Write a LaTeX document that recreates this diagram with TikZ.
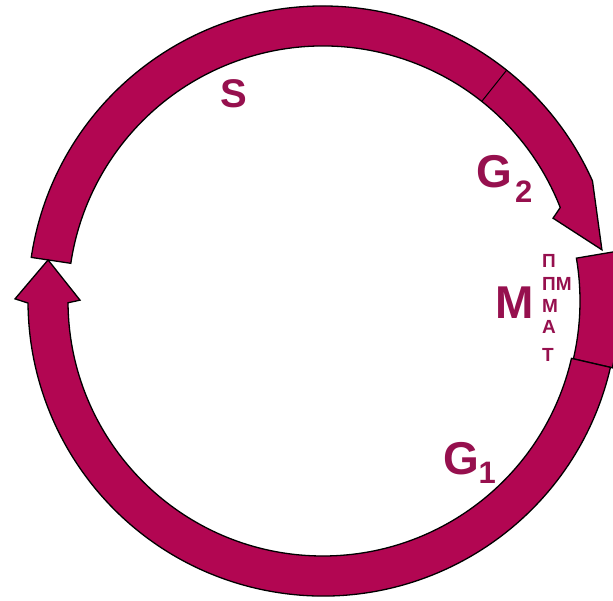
\documentclass[tikz,border=0pt]{standalone}
\usepackage{fontspec}
\setmainfont{Liberation Sans}
\definecolor{ring}{RGB}{178,6,82}
\definecolor{lab}{RGB}{150,16,78}
\begin{document}
\begin{tikzpicture}[x=1pt,y=1pt,
  seg/.style={fill=ring,draw=black,line width=1.3pt,line join=miter},
  lbl/.style={text=lab,inner sep=0pt,anchor=base west},
  big/.style={font=\bfseries\fontsize{46}{46}\selectfont},
  sub/.style={font=\bfseries\fontsize{31}{31}\selectfont},
  tiny/.style={font=\bfseries\fontsize{19}{19}\selectfont}]
\useasboundingbox (0,0) rectangle (613,-600);
\clip (0,0) rectangle (613,-600);
\begin{scope}[shift={(323,-301)}]
  % S + G2 with arrow head
  \path[seg] (171.5:295pt) arc[start angle=171.5,end angle=24,radius=295pt]
     -- (10.4:283.6pt) -- (19.8:244.5pt) -- (21.5:255pt)
     arc[start angle=21.5,end angle=171.5,radius=255pt] -- cycle;
  \draw[black,line width=1pt] (51.5:255pt) -- (51.5:295pt);
  % M block
  \path[seg] (9.6:257pt) -- (9.6:297pt) arc[start angle=9.6,end angle=-13,radius=297pt]
     -- (-13:257pt) arc[start angle=-13,end angle=9.6,radius=257pt] -- cycle;
  % G1 with arrow head
  \path[seg] (-13:255pt) -- (-13:295pt) arc[start angle=-13,end angle=-179.6,radius=295pt]
     -- (179.6:308pt) -- (171.5:278pt) -- (179.8:243pt) -- (-179.6:255pt)
     arc[start angle=-179.6,end angle=-13,radius=255pt] -- cycle;
\end{scope}
\node[lbl,font=\bfseries\fontsize{40}{40}\selectfont] (s) at (220.5,-107) {S};
\node[lbl,big] (g2) at (476,-187) {G};
\node[lbl,sub] (g2s) at (515,-202) {2};
\node[lbl,big] (g1) at (443,-474) {G};
\node[lbl,sub] (g1s) at (478.5,-483) {1};
\node[lbl,big] (m) at (495,-318) {M};
\node[lbl,tiny] (p1) at (542,-267) {П};
\node[lbl,tiny] (p2) at (542,-290) {ПМ};
\node[lbl,tiny] (p3) at (542,-312) {М};
\node[lbl,tiny] (p4) at (542,-333) {А};
\node[lbl,tiny] (p5) at (542,-361) {Т};
\end{tikzpicture}
\end{document}
